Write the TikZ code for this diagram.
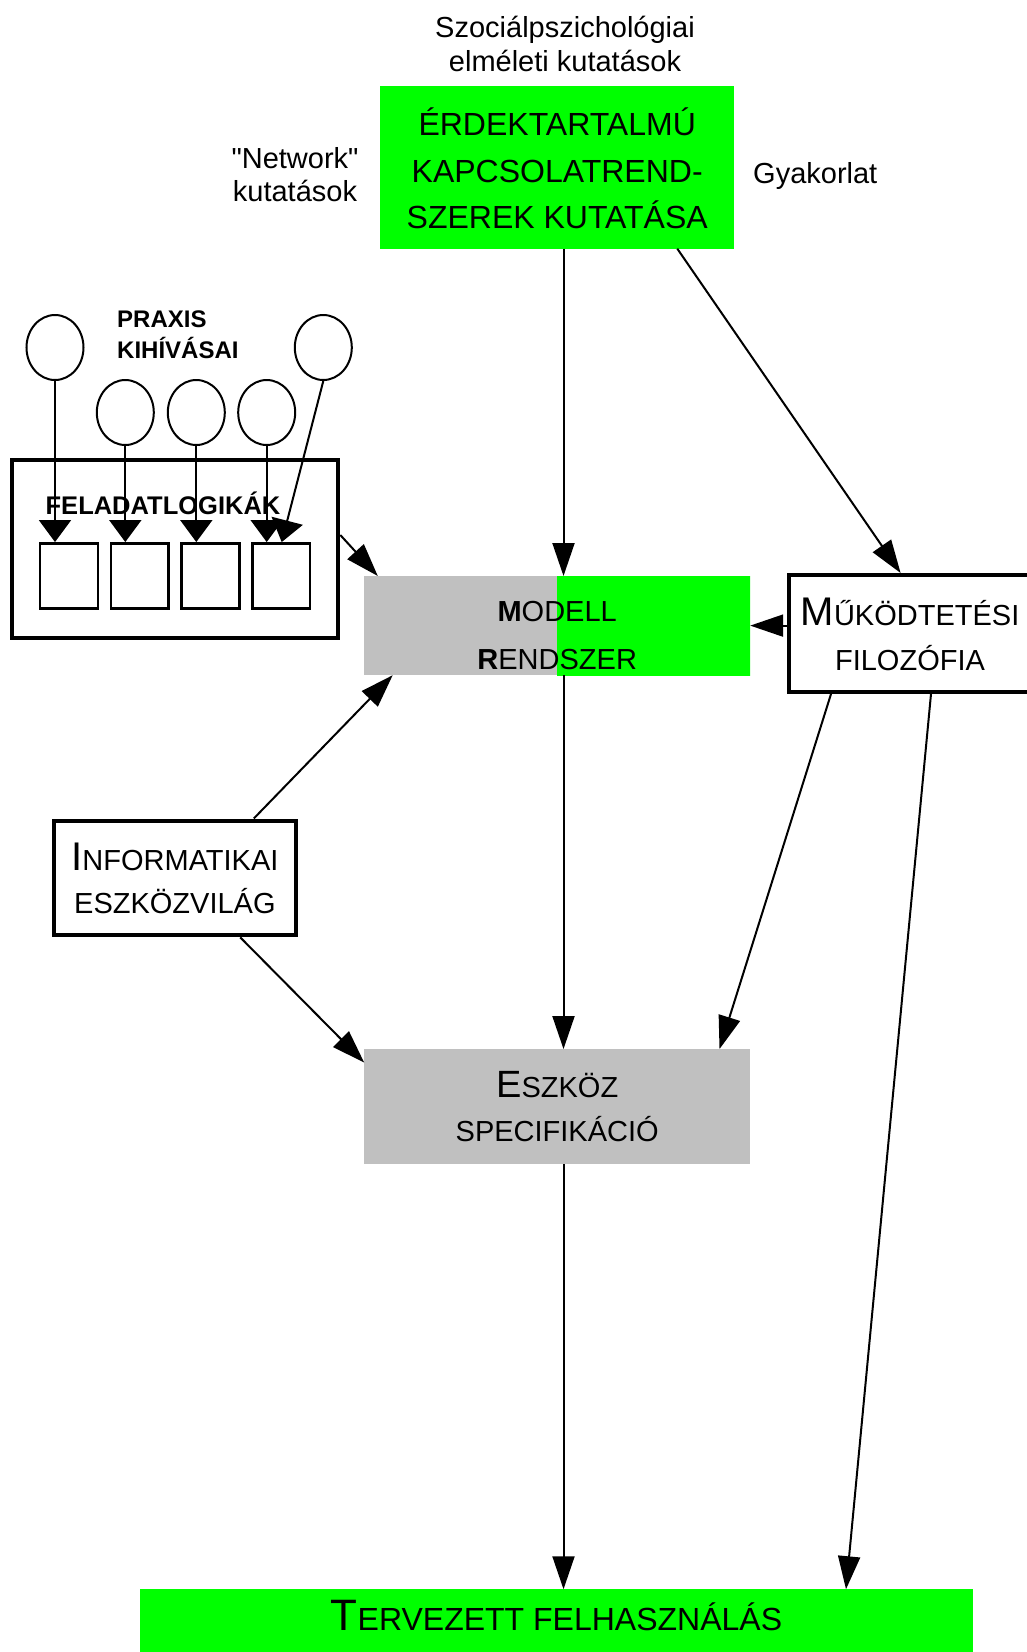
\documentclass[tikz,border=0pt]{standalone}
\usepackage{fontspec}
\setmainfont{Liberation Sans}
\usetikzlibrary{arrows.meta,shapes.geometric}
\definecolor{vgreen}{HTML}{00FF00}
\definecolor{lgray}{HTML}{C0C0C0}
\newcommand\btext[3][c]{\smash{\raisebox{#2}{\begin{tabular}[t]{@{}#1@{}}#3\end{tabular}}}}
\newcommand\smcap[3]{{\fontsize{#1}{#1}\selectfont #2}#3}
\begin{document}
\begin{tikzpicture}[x=1pt,y=-1pt,
  conn/.style={line width=2pt,-{Triangle[width=22pt,length=33pt]}},
  sconn/.style={line width=2pt,-{Triangle[width=32pt,length=22pt]}},
  thickbox/.style={draw,line width=4pt,inner sep=0pt,rectangle},
  fillbox/.style={inner sep=0pt,rectangle},
  circ/.style={ellipse,draw,line width=2pt,minimum width=57pt,minimum height=65pt,inner sep=0pt},
  sq/.style={draw,line width=2.5pt,minimum width=57.7pt,minimum height=65pt,inner sep=0pt},
  lbl/.style={inner sep=0pt}]
\useasboundingbox (0,0) rectangle (1027,1652);

% boxes
\node[fillbox,fill=vgreen,minimum width=354pt,minimum height=163pt,font=\fontsize{32}{46.3}\selectfont] (erd) at (557.2,167)
  {\btext{31.2pt}{ÉRDEKTARTALMÚ\\KAPCSOLATREND-\\SZEREK KUTATÁSA}};
\node[fillbox,fill=lgray,minimum width=385.6pt,minimum height=98.8pt,
  path picture={\fill[vgreen] ([yshift=-2pt]path picture bounding box.south) rectangle ([xshift=2pt,yshift=2pt]path picture bounding box.north east);},
  font=\fontsize{29}{48}\selectfont] (modell) at (557.2,625.6)
  {\btext{4.6pt}{\textbf{M}ODELL\\\textbf{R}ENDSZER}};
\node[thickbox,minimum width=242pt,minimum height=117pt,font=\fontsize{29}{45}\selectfont] (mukod) at (910,633.5)
  {\btext{8.5pt}{\smcap{40}{M}{ŰKÖDTETÉSI}\\FILOZÓFIA}};
\node[thickbox,minimum width=242.3pt,minimum height=114.8pt,font=\fontsize{29}{43}\selectfont] (info) at (174.9,877.9)
  {\btext{7.9pt}{\smcap{40}{I}{NFORMATIKAI}\\ESZKÖZVILÁG}};
\node[fillbox,fill=lgray,minimum width=385.6pt,minimum height=114.7pt,font=\fontsize{29}{44.5}\selectfont] (eszk) at (557.2,1106.6)
  {\btext{9.5pt}{\smcap{38}{E}{SZKÖZ}\\SPECIFIKÁCIÓ}};
\node[fillbox,fill=vgreen,minimum width=833pt,minimum height=65.5pt,font=\fontsize{32}{32}\selectfont] (terv) at (556.5,1622.2)
  {\btext{-8.3pt}{\smcap{44}{T}{ERVEZETT FELHASZNÁLÁS}}};

% feladatlogikak group
\node[thickbox,minimum width=326.6pt,minimum height=178.3pt] (fl) at (175,549.2) {};
\node[sq] (s1) at (68.9,575.8) {};
\node[sq] (s2) at (139.7,575.8) {};
\node[sq] (s3) at (210.4,575.8) {};
\node[sq] (s4) at (281.2,575.8) {};
\node[circ] (c1) at (55,347.5) {};
\node[circ] (c2) at (125.3,412.5) {};
\node[circ] (c3) at (196.3,412.5) {};
\node[circ] (c4) at (266.7,412.5) {};
\node[circ] (c5) at (323.3,347.5) {};

% free labels
\node[lbl,font=\fontsize{29}{34}\selectfont] (szoc) at (565,37) {\btext{0pt}{Szociálpszichológiai\\elméleti kutatások}};
\node[lbl,font=\fontsize{29}{33}\selectfont] (net) at (295,168) {\btext{0pt}{\textquotedbl Network\textquotedbl\\kutatások}};
\node[lbl,font=\fontsize{29}{32}\selectfont,anchor=base west] (gyak) at (753,183) {Gyakorlat};
\node[lbl,font=\bfseries\fontsize{24}{31}\selectfont,anchor=west] (praxis) at (117,327.3) {\btext[l]{0pt}{PRAXIS\\KIHÍVÁSAI}};
\node[lbl,font=\bfseries\fontsize{25.5}{25.5}\selectfont,anchor=base] (felad) at (163,514) {FELADATLOGIKÁK};

% small arrows
\draw[sconn] (c1.south) -- (c1.south |- s1.north);
\draw[sconn] (c2.south) -- (c2.south |- s2.north);
\draw[sconn] (c3.south) -- (c3.south |- s3.north);
\draw[sconn] (c4.south) -- (c4.south |- s4.north);
\draw[sconn] (c5.south) -- ([xshift=0.5pt]s4.north);

% main connectors
\draw[conn] ([xshift=6.3pt]erd.south) -- ([xshift=6.3pt]modell.north);
\draw[conn] ([xshift=120.1pt]erd.south) -- ([xshift=-9.4pt]mukod.north);
\draw[conn] ([yshift=14.2pt]fl.east) -- ([xshift=13.6pt]modell.north west);
\draw[conn] (mukod.west |- modell.east) -- (modell.east);
\draw[conn] ([xshift=78.9pt]info.north) -- ([xshift=28.5pt]modell.south west);
\draw[conn] ([xshift=65.3pt]info.south) -- ([yshift=-13.5pt]eszk.north west);
\draw[conn] ([xshift=6.3pt]modell.south) -- ([xshift=6.3pt]eszk.north);
\draw[conn] ([xshift=-79pt]mukod.south) -- ([xshift=-30.7pt]eszk.north east);
\draw[conn] ([xshift=21pt]mukod.south) -- ([xshift=289.5pt]terv.north);
\draw[conn] ([xshift=6.3pt]eszk.south) -- ([xshift=7pt]terv.north);
\end{tikzpicture}
\end{document}
